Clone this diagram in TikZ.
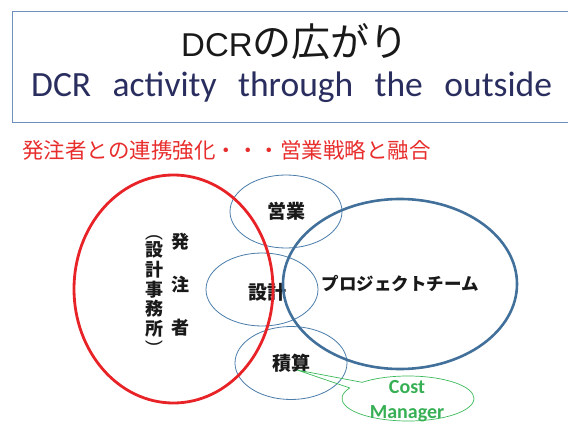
\documentclass[tikz,border=0pt]{standalone}
\usepackage{fontspec}
\usepackage{graphicx}
\setmainfont{Liberation Sans}
\newfontfamily\jp{Noto Sans CJK JP}
\newfontfamily\calfont{Carlito}
\usetikzlibrary{shapes.geometric,shapes.callouts}
\definecolor{boxblue}{RGB}{110,145,185}
\definecolor{navy}{RGB}{42,46,95}
\definecolor{redline}{RGB}{232,35,40}
\definecolor{redtext}{RGB}{232,45,45}
\definecolor{teamblue}{RGB}{65,112,155}
\definecolor{thinblue}{RGB}{75,125,170}
\definecolor{cmgreen}{RGB}{60,185,90}
\definecolor{cmtext}{RGB}{55,175,85}
\definecolor{ink}{RGB}{25,25,25}
\tikzset{
  thinell/.style={ellipse, draw=thinblue, line width=0.8pt, inner sep=0pt, minimum width=112pt, minimum height=73pt},
  jpbold/.style={text=ink, font=\jp\bfseries\fontsize{19}{22}\selectfont},
  vparen/.style={text=ink, inner sep=0pt, font=\fontsize{18}{20}\selectfont},
}
\begin{document}
\begin{tikzpicture}[x=1pt,y=-1pt]
\useasboundingbox (0,0) rectangle (568,423);
\clip (0,0) rectangle (568,423);
% title box
\node (titlebox) [draw=boxblue, line width=0.8pt, anchor=north west, minimum width=575pt, minimum height=111pt, inner sep=0pt] at (11.5,10.5) {};
\node (title) [text=ink, anchor=base west, inner sep=0pt] at (181,56) {\fontsize{33}{40}\selectfont DCR{\jp\fontsize{39}{40}\selectfont の広がり}};
\node (subtitle) [text=navy, anchor=base west, inner sep=0pt] at (31,96.7) {\calfont\fontsize{35.5}{40}\selectfont DCR\hspace{21.5pt}activity\hspace{21.5pt}through\hspace{21.5pt}the\hspace{21.5pt}outside};
% red heading
\node (heading) [anchor=west, text=redtext, inner sep=0pt] at (22,150) {\jp\fontsize{21.5}{24}\selectfont 発注者との連携強化・・・営業戦略と融合};
% small blue ellipses
\node (eigyo) [thinell, jpbold] at (286,211.5) {営業};
\node (sekkeiell) [thinell] at (262,289.5) {};
\node (sekkei) [jpbold] at (267,292) {設計};
\node (sekisan) [thinell, jpbold] at (291,363) {積算};
% project team
\node (team) [ellipse, draw=teamblue, line width=2.6pt, inner sep=0pt, minimum width=234pt, minimum height=170pt, text=ink, font=\jp\bfseries\fontsize{17.5}{20}\selectfont] at (400,284) {プロジェクトチーム};
% client ellipse
\node (client) [ellipse, draw=redline, line width=2.8pt, inner sep=0pt, minimum width=199pt, minimum height=228pt] at (173.5,289) {};
\node (hatchu) [text=ink, align=center, inner sep=0pt, font=\jp\bfseries\fontsize{18}{43}\selectfont] at (180,285) {発\\注\\者};
\node (office) [text=ink, align=center, inner sep=0pt, font=\jp\bfseries\fontsize{18}{19.75}\selectfont] at (154,289.5) {設\\計\\事\\務\\所};
\node (lparen) [vparen] at (154,237) {\rotatebox{-90}{(}};
\node (rparen) [vparen] at (154,343) {\rotatebox{-90}{)}};
% cost manager callout
\coordinate (tip) at (297,370);
\node (cmcall) [ellipse callout, draw=cmgreen, line width=0.7pt, inner sep=0pt, minimum width=132pt, minimum height=45pt, callout absolute pointer={(tip)}, callout pointer arc=18] at (408,398.5) {};
\node (cm) [text=cmtext, align=center, font=\calfont\bfseries\fontsize{20}{25}\selectfont] at (407,401.5) {Cost\\Manager};
\end{tikzpicture}
\end{document}
